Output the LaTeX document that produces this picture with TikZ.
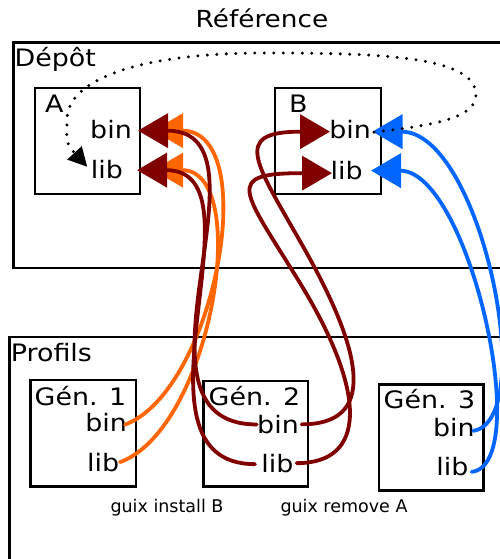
\documentclass[tikz,border=0pt]{standalone}
\usepackage{fontspec}
\setmainfont{DejaVu Sans}
\newfontfamily\widefont{DejaVu Sans}[FakeStretch=1.12]
\usetikzlibrary{arrows.meta}
\definecolor{cdred}{HTML}{800000}
\definecolor{corange}{HTML}{FF6600}
\definecolor{cblue}{HTML}{0066FF}
\begin{document}
\begin{tikzpicture}[x=1pt,y=-1pt,
  frame/.style={draw=black,line width=2.8pt,inner sep=0pt,outer sep=0pt,fill=none},
  big/.style={inner sep=0pt,font=\widefont\fontsize{24pt}{28pt}\selectfont},
  ttl/.style={inner sep=0pt,anchor=base,font=\widefont\fontsize{23.5pt}{28pt}\selectfont},
  cmd/.style={inner sep=0pt,anchor=base,font=\fontsize{17.5pt}{20pt}\selectfont},
  wire/.style={line width=3.8pt,line cap=round,-{Triangle[length=30pt,width=34pt]}},
  dotline/.style={line width=3.3pt,dash pattern=on 0pt off 9.5pt,line cap=round,
    -{Triangle[length=19pt,width=19pt]}}]
\useasboundingbox (0,0) rectangle (500,559);
\clip (0,0) rectangle (500,559);
\fill[white] (0,0) rectangle (500,559);
% outer frames
\node[frame,minimum width=506.5pt,minimum height=225.3pt] (depot) at (266.75,155.35) {};
\node[frame,minimum width=510.5pt,minimum height=253pt] (profils) at (264.75,463.5) {};
% inner boxes
\node[frame,minimum width=105pt,minimum height=106pt] (boxA) at (87.5,141) {};
\node[frame,minimum width=106pt,minimum height=106pt] (boxB) at (328,141) {};
\node[frame,minimum width=105.3pt,minimum height=106.7pt] (gen1) at (83.35,433.35) {};
\node[frame,minimum width=104.7pt,minimum height=105.7pt] (gen2) at (255.65,433.85) {};
\node[frame,minimum width=104.3pt,minimum height=106.4pt] (gen3) at (431.15,437.5) {};
% titles
\node[ttl] (title) at (262,27.7) {Référence};
\node[big,anchor=base west] (tdepot) at (14.5,66.7) {Dépôt};
\node[big,anchor=base west] (tprofils) at (10.7,361) {Profils};
\node[big,anchor=base west] (tA) at (44.8,112.7) {A};
\node[big,anchor=base west] (tB) at (289,112.7) {B};
\node[big,anchor=base west] (tg1) at (34.5,405) {Gén. 1};
\node[big,anchor=base west] (tg2) at (208.5,405) {Gén. 2};
\node[big,anchor=base west] (tg3) at (383.5,408.3) {Gén. 3};
% bin / lib labels
\node[big,anchor=base] (Abin) at (111,138.3) {bin};
\node[big,anchor=base] (Alib) at (106.9,178.3) {lib};
\node[big,anchor=base] (Bbin) at (350.2,139) {bin};
\node[big,anchor=base] (Blib) at (346.6,179.3) {lib};
\node[big,anchor=base] (G1bin) at (106.2,431.7) {bin};
\node[big,anchor=base] (G1lib) at (103.2,471) {lib};
\node[big,anchor=base] (G2bin) at (278,433.3) {bin};
\node[big,anchor=base] (G2lib) at (277.4,472.5) {lib};
\node[big,anchor=base] (G3bin) at (453.9,436) {bin};
\node[big,anchor=base] (G3lib) at (452.4,475) {lib};
% commands
\node[cmd] (install) at (167,512) {guix install B};
\node[cmd] (remove) at (344,512) {guix remove A};
% orange: generation 1 -> A
\draw[wire,corange] ([shift={(18.8,1.9)}]G1bin.center) .. controls +(90,-34) and +(110,0) .. ([shift={(42,1.3)}]Abin.center);
\draw[wire,corange] ([shift={(16.8,0.1)}]G1lib.center) .. controls +(92,-34) and +(100,0) .. ([shift={(46.1,0.8)}]Alib.center);
% dark red: generation 2 -> A and B
\draw[wire,cdred] ([shift={(-21.3,0.1)}]G2bin.center) .. controls +(-145,0) and +(144,0) .. ([shift={(27,1.3)}]Abin.center);
\draw[wire,cdred] ([shift={(-22.4,0.6)}]G2lib.center) .. controls +(-139,0) and +(133,0) .. ([shift={(30.1,0.8)}]Alib.center);
\draw[wire,cdred] ([shift={(23.7,0)}]G2bin.center) .. controls +(75,0) and +(58.8,104.4) .. (305,250) .. controls +(-49,-87) and +(-100,0) .. ([shift={(-20.2,1.6)}]Bbin.center);
\draw[wire,cdred] ([shift={(19.3,-0.4)}]G2lib.center) .. controls +(70,0) and +(67.6,110.5) .. (300,283) .. controls +(-57.2,-93.5) and +(-110,0) .. ([shift={(-14.6,2.8)}]Blib.center);
% blue: generation 3 -> B
\draw[wire,cblue] ([shift={(19.4,3.8)}]G3bin.center) .. controls +(67,-11) and +(108,0) .. ([shift={(22.3,1.6)}]Bbin.center);
\draw[wire,cblue] ([shift={(19.3,5.8)}]G3lib.center) .. controls +(63,-7) and +(98,0) .. ([shift={(24.4,0.3)}]Blib.center);
% dotted dependency B -> A
\draw[dotline] ([shift={(23.8,2.1)}]Bbin.center) .. controls +(50,-6) and +(0,25) .. (476,95)
  .. controls +(0,-40) and +(110,0) .. (263,53)
  .. controls +(-110,0) and +(0,-45) .. (67,120)
  .. controls +(0,18) and +(-23,-25) .. ([shift={(-19.6,-2.5)}]Alib.center);
\end{tikzpicture}
\end{document}
